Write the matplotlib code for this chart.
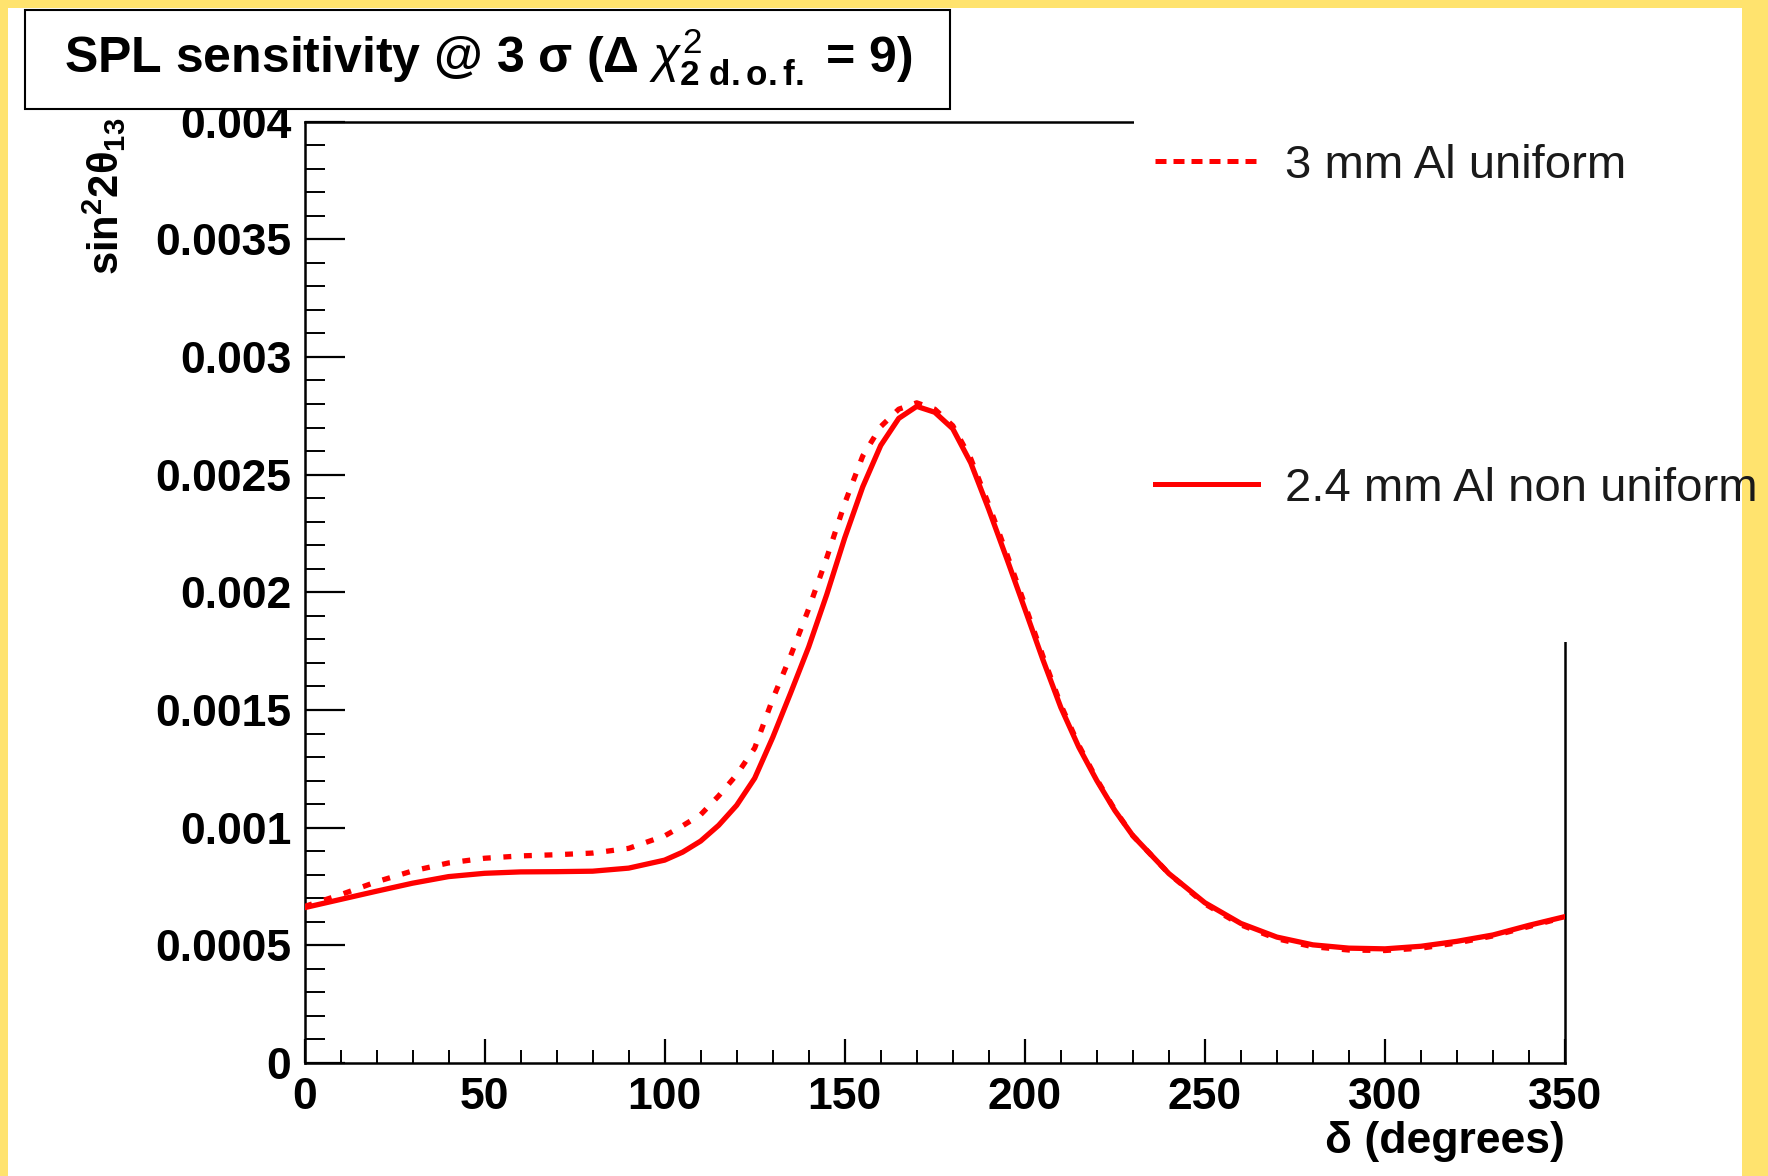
import matplotlib
matplotlib.use("Agg")
import matplotlib.pyplot as plt
from matplotlib.patches import Rectangle
from matplotlib.lines import Line2D
from matplotlib.ticker import FixedLocator, MultipleLocator

plt.rcParams['font.family'] = ['Liberation Sans', 'DejaVu Sans']
plt.rcParams['mathtext.fontset'] = 'custom'
plt.rcParams['mathtext.rm'] = 'Liberation Sans'
plt.rcParams['mathtext.bf'] = 'Liberation Sans:bold'
plt.rcParams['mathtext.it'] = 'Liberation Sans:italic'
plt.rcParams['mathtext.sf'] = 'Liberation Sans'

# ---------------- data ----------------
delta = [0, 10, 20, 30, 40, 50, 60, 70, 80, 90, 100, 105, 110, 115, 120, 125,
         130, 135, 140, 145, 150, 155, 160, 165, 170, 175, 180, 185, 190, 195,
         200, 205, 210, 215, 220, 225, 230, 240, 250, 260, 270, 280, 290, 300,
         310, 320, 330, 340, 350]

sens_3mm_uniform = [0.000665, 0.000715, 0.000770, 0.000816, 0.000850, 0.000870,
                    0.000880, 0.000885, 0.000892, 0.000912, 0.000965, 0.001008,
                    0.001055, 0.001135, 0.001225, 0.001338, 0.001546, 0.001731,
                    0.001930, 0.002146, 0.002378, 0.002579, 0.002704, 0.002778,
                    0.002805, 0.002778, 0.002708, 0.002568, 0.002372, 0.002163,
                    0.001948, 0.001730, 0.001522, 0.001350, 0.001205, 0.001076,
                    0.000966, 0.000805, 0.000676, 0.000587, 0.000528, 0.000494,
                    0.000480, 0.000478, 0.000488, 0.000510, 0.000540, 0.000580,
                    0.000620]

sens_24mm_nonuniform = [0.000660, 0.000695, 0.000730, 0.000764, 0.000792, 0.000806,
                        0.000812, 0.000813, 0.000815, 0.000828, 0.000862, 0.000896,
                        0.000943, 0.001010, 0.001095, 0.001210, 0.001383, 0.001573,
                        0.001768, 0.001990, 0.002231, 0.002448, 0.002624, 0.002739,
                        0.002790, 0.002765, 0.002695, 0.002550, 0.002352, 0.002143,
                        0.001930, 0.001715, 0.001511, 0.001342, 0.001200, 0.001073,
                        0.000966, 0.000805, 0.000681, 0.000593, 0.000535, 0.000502,
                        0.000488, 0.000485, 0.000496, 0.000517, 0.000544, 0.000585,
                        0.000622]

series_labels = ["3 mm Al uniform", "2.4 mm Al non uniform"]

xtick_values = [0, 50, 100, 150, 200, 250, 300, 350]
xtick_labels = ["0", "50", "100", "150", "200", "250", "300", "350"]
ytick_values = [0, 0.0005, 0.001, 0.0015, 0.002, 0.0025, 0.003, 0.0035, 0.004]
ytick_labels = ["0", "0.0005", "0.001", "0.0015", "0.002", "0.0025", "0.003",
                "0.0035", "0.004"]

title_text = r"SPL sensitivity @ 3 σ (Δ $\chi^{2}_{\mathbf{2\ d.o.f.}}$ = 9)"
xlabel_text = "δ (degrees)"
ylabel_text = r"sin$^{\mathbf{2}}$2θ$_{\mathbf{13}}$"

# ---------------- layout ----------------
W, H = 1768, 1176


def fx(px):
    return px / W


def fy(py):
    return 1 - py / H


fig = plt.figure(figsize=(W / 100, H / 100), dpi=100, facecolor='#FFE36E')

# white page
fig.add_artist(Rectangle((fx(8), 0), fx(1742) - fx(8), fy(8), transform=fig.transFigure,
                         facecolor='white', edgecolor='none', zorder=-10))

ax = fig.add_axes([fx(304.5), fy(1063), (1565 - 304.5) / W, (1063 - 121.6) / H])
ax.set_facecolor('white')

ax.plot(delta, sens_24mm_nonuniform, color='#FF0000', lw=3.8, zorder=3)
ax.plot(delta, sens_3mm_uniform, color='#FF0000', lw=3.8, linestyle=(0, (1.5, 2.4)), zorder=4)

ax.set_xlim(0, 350)
ax.set_ylim(0, 0.004)

ax.xaxis.set_major_locator(FixedLocator(xtick_values))
ax.set_xticklabels(xtick_labels)
ax.xaxis.set_minor_locator(MultipleLocator(10))
ax.yaxis.set_major_locator(FixedLocator(ytick_values))
ax.set_yticklabels(ytick_labels)
ax.yaxis.set_minor_locator(MultipleLocator(0.0001))

ax.tick_params(axis='x', which='major', direction='in', length=17, width=1.6,
               labelsize=32, pad=10, top=False)
ax.tick_params(axis='x', which='minor', direction='in', length=9.4, width=1.4, top=False)
ax.tick_params(axis='y', which='major', direction='in', length=28.5, width=1.6,
               labelsize=32, pad=9.5, right=False)
ax.tick_params(axis='y', which='minor', direction='in', length=14.4, width=1.4, right=False)
for lbl in ax.get_xticklabels() + ax.get_yticklabels():
    lbl.set_fontweight('bold')

for sp in ax.spines.values():
    sp.set_linewidth(1.8)
    sp.set_color('black')

ax.set_xlabel(xlabel_text, loc='right', fontsize=32, fontweight='bold')
ax.xaxis.set_label_coords(1.0, -0.062)
ax.set_ylabel(ylabel_text, loc='top', fontsize=30, fontweight='bold')
ax.yaxis.set_label_coords(-0.140, 1.004)

# white legend area covering part of the frame
fig.add_artist(Rectangle((fx(1134), fy(642)), fx(1742) - fx(1134), fy(100) - fy(642),
                         transform=fig.transFigure, facecolor='white', edgecolor='none', zorder=2))

handles = [Line2D([], [], color='#FF0000', lw=3.6, linestyle=(0, (2.2, 1.4))),
           Line2D([], [], color='#FF0000', lw=3.6)]
leg = fig.legend(handles, series_labels, loc='upper left', bbox_to_anchor=(fx(1155), fy(144)),
                 frameon=False, prop={'size': 34, 'weight': 'normal'}, handlelength=2.18,
                 handletextpad=0.57, labelspacing=5.9, borderpad=0, borderaxespad=0)
for t in leg.get_texts():
    t.set_color('#1a1a1a')
leg.set_zorder(6)

# title box
fig.add_artist(Rectangle((fx(25), fy(109)), fx(950) - fx(25), fy(10) - fy(109),
                         transform=fig.transFigure, facecolor='white', edgecolor='black',
                         lw=1.5, zorder=3))
fig.text(fx(64), fy(72), title_text, fontsize=36, fontweight='bold', ha='left',
         va='baseline', zorder=4)

fig.savefig('out.png', dpi=100, facecolor=fig.get_facecolor())
